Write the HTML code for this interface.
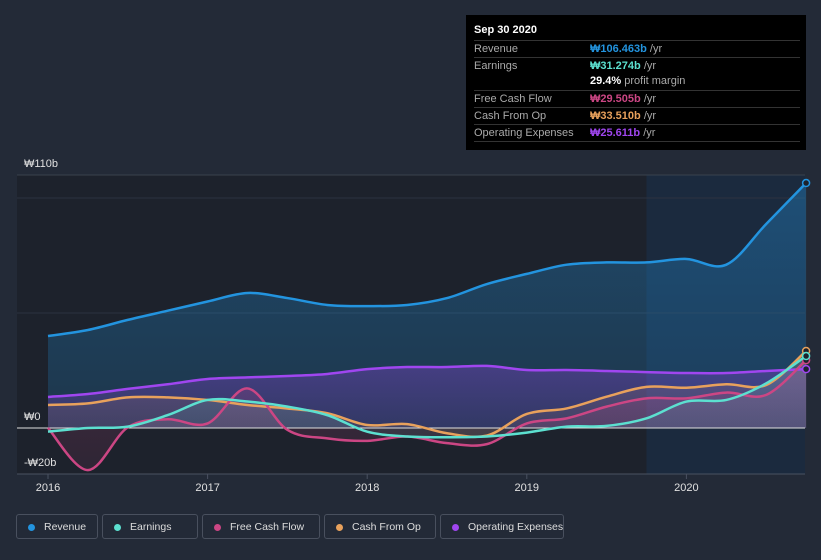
<!DOCTYPE html>
<html><head><meta charset="utf-8"><style>
html,body{margin:0;padding:0;background:#232a37;width:821px;height:560px;overflow:hidden;font-family:"Liberation Sans","Noto Sans CJK KR",sans-serif}
#tip{position:absolute;left:466px;top:15px;width:340px;height:135px;background:#000;color:#fff;font-size:11px}
.row{position:absolute;left:8px;width:326px;border-top:1px solid #333;height:16px;line-height:16px;color:#aaa}
.row span{position:absolute;left:116px;font-weight:bold}
.row i{font-style:normal;color:#aaa;font-weight:normal}
#legend{position:absolute;top:514px;left:16px;height:27px}
.lg{position:absolute;top:0;height:25px;border:1px solid #49505e;border-radius:3px;color:#ddd;font-size:10.5px;line-height:25px;box-sizing:border-box;white-space:nowrap}
.lg b{position:absolute;left:11px;top:9px;width:7px;height:7px;border-radius:50%}
.lg em{position:absolute;left:27px;font-style:normal;white-space:nowrap}
</style></head><body>
<svg id="chart" width="821" height="560" style="position:absolute;left:0;top:0"></svg>
<div id="tip">
<div style="position:absolute;left:8px;top:9px;font-weight:bold;font-size:11px">Sep 30 2020</div>
<div class="row" style="top:25px">Revenue<span style="color:#2394df">₩106.463b <i>/yr</i></span></div>
<div class="row" style="top:42px">Earnings<span style="color:#5ce0d0">₩31.274b <i>/yr</i></span></div>
<div class="row" style="top:58px;border-top:none"><span style="color:#fff">29.4% <i>profit margin</i></span></div>
<div class="row" style="top:75px">Free Cash Flow<span style="color:#cc4684">₩29.505b <i>/yr</i></span></div>
<div class="row" style="top:92px">Cash From Op<span style="color:#e8a15c">₩33.510b <i>/yr</i></span></div>
<div class="row" style="top:109px">Operating Expenses<span style="color:#a046f0">₩25.611b <i>/yr</i></span></div>
<div style="position:absolute;left:8px;top:126px;width:326px;border-top:1px solid #333"></div>
</div>
<div id="legend">
<div class="lg" style="left:0;width:82px"><b style="background:#2394df"></b><em>Revenue</em></div>
<div class="lg" style="left:86px;width:96px"><b style="background:#5ce0d0"></b><em>Earnings</em></div>
<div class="lg" style="left:186px;width:118px"><b style="background:#cc4684"></b><em>Free Cash Flow</em></div>
<div class="lg" style="left:308px;width:112px"><b style="background:#e8a15c"></b><em>Cash From Op</em></div>
<div class="lg" style="left:424px;width:124px"><b style="background:#a046f0"></b><em>Operating Expenses</em></div>
</div>
<script>
const times=[2016,2016.25,2016.5,2016.75,2017,2017.25,2017.5,2017.75,2018,2018.25,2018.5,2018.75,2019,2019.25,2019.5,2019.75,2020,2020.25,2020.5,2020.75];
const revenue=[40,42.6,47,51,55,58.7,56.5,53.5,53,53.5,56.5,62.6,67,71,72,72,73.5,71,88.7,106.5];
const earnings=[-1.6,0,0.6,5.6,12.2,11.5,9.3,5.6,-1.6,-3.7,-4,-3.7,-2,0.6,0.9,4.2,11.5,12.2,19.4,31.3];
const fcf=[0,-18.3,0.3,3.8,2,17.2,-0.8,-4.5,-5.6,-3.7,-6.6,-7,2,4.2,9.3,12.9,12.9,15.4,14.4,29.5];
const cfo=[10,10.7,13.3,13.3,12.2,10,8.5,6.4,1.3,1.7,-2.3,-3.3,6.1,8.5,13.6,17.9,17.5,19,18.7,33.5];
const opex=[13.5,14.8,17,19,21.3,22,22.6,23.5,25.6,26.5,26.5,27,25.2,25.2,24.8,24.3,23.9,23.9,24.8,25.6];
const yTicks=[110,0,-20];const yTickLabels=["₩110b","₩0","-₩20b"];
const xTicks=[2016,2017,2018,2019,2020];
const X=t=>48+(t-2016)*159.6, Y=v=>428-v*2.3;
const svg=document.getElementById('chart'),NS='http://www.w3.org/2000/svg';
function el(tag,attrs,parent){const e=document.createElementNS(NS,tag);for(const k in attrs)e.setAttribute(k,attrs[k]);(parent||svg).appendChild(e);return e;}
const defs=el('defs',{});
let bg=el('rect',{x:17,y:175,width:788,height:299,fill:'#1d222c'});


let hl=el('rect',{x:X(2019.75),y:175,width:805-X(2019.75),height:299,fill:'#1b2a3e'});


[100,50].forEach(v=>{el('line',{x1:17,x2:805,y1:Y(v),y2:Y(v),stroke:'#2c3340','stroke-width':1});});
el('line',{x1:17,x2:805,y1:Y(110),y2:Y(110),stroke:'#3a414d'});
function path(vals){const p=vals.map((v,i)=>[X(times[i]),Y(v)]);let d='M'+p[0][0]+','+p[0][1];
for(let i=0;i<p.length-1;i++){const p0=p[i-1]||p[i],p1=p[i],p2=p[i+1],p3=p[i+2]||p2;
d+=' C'+(p1[0]+(p2[0]-p0[0])/6)+','+(p1[1]+(p2[1]-p0[1])/6)+' '+(p2[0]-(p3[0]-p1[0])/6)+','+(p2[1]-(p3[1]-p1[1])/6)+' '+p2[0]+','+p2[1];}return d;}
const series=[['revenue',revenue,'#2394df',0.35],['opex',opex,'#a046f0',0.3],['cfo',cfo,'#e8a15c',0.15],['fcf',fcf,'#cc4684',0.2],['earnings',earnings,'#5ce0d0',0.15]];
series.forEach(([n,vals,c,o])=>{const g=el('linearGradient',{id:'g'+n,x1:0,y1:0,x2:0,y2:1},defs);
el('stop',{offset:0,'stop-color':c,'stop-opacity':o},g);el('stop',{offset:1,'stop-color':c,'stop-opacity':o*0.5},g);
const a=el('path',{d:path(vals)+' L'+X(times[times.length-1])+','+Y(0)+' L'+X(times[0])+','+Y(0)+' Z',fill:'url(#g'+n+')'});

});
el('line',{x1:17,x2:805,y1:Y(0),y2:Y(0),stroke:'#e0e0e0','stroke-width':1});
series.forEach(([n,vals,c])=>{const l=el('path',{d:path(vals),fill:'none',stroke:c,'stroke-width':2.5});


const d=el('circle',{cx:X(times[times.length-1]),cy:Y(vals[vals.length-1]),r:3.5,fill:'#1d222c',stroke:c,'stroke-width':1.5});

});
el('line',{x1:17,x2:805,y1:474,y2:474,stroke:'#4a5160'});
yTicks.forEach((v,i)=>{const t=el('text',{x:24,y:Y(v)-8,fill:'#e0e0e0','font-size':11});t.textContent=yTickLabels[i];

});
xTicks.forEach(v=>{el('line',{x1:X(v),x2:X(v),y1:474,y2:479,stroke:'#4a5160'});
const t=el('text',{x:X(v),y:491,fill:'#e0e0e0','font-size':11,'text-anchor':'middle'});t.textContent=v;

});
</script>
</body></html>
